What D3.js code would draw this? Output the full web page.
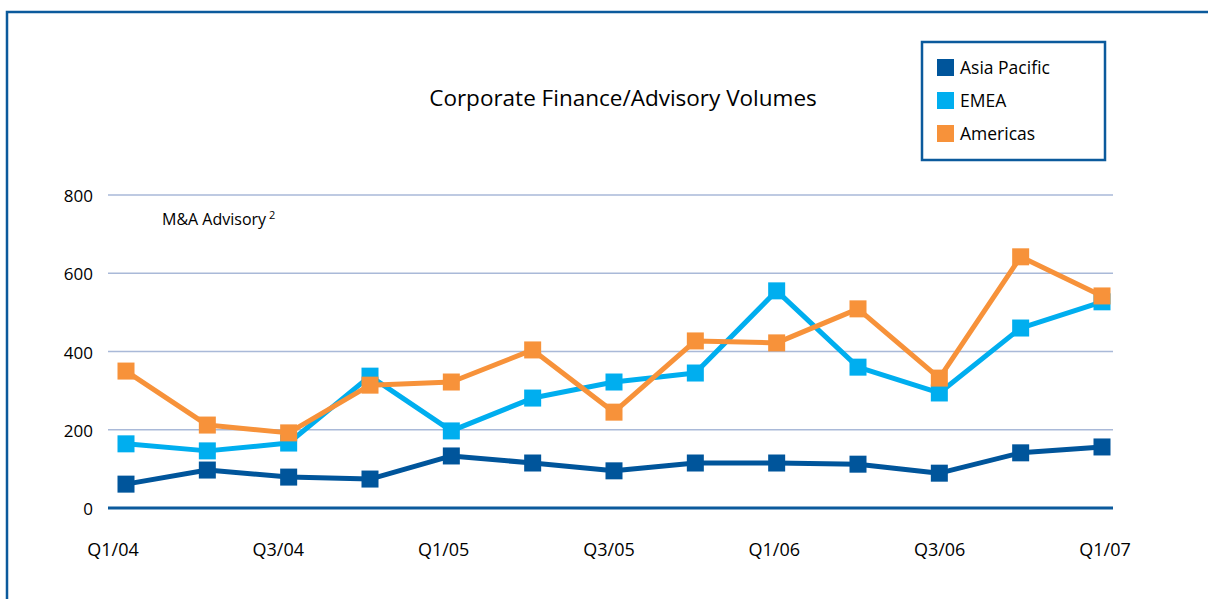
<!DOCTYPE html>
<html>
<head>
<meta charset="utf-8">
<script src="https://cdn.jsdelivr.net/npm/d3@7"></script>
<style>
  body { margin: 0; background: #fff; }
  svg text { font-family: "Open Sans", "Noto Sans", sans-serif; fill: #000; }
</style>
</head>
<body>
<div id="chart"></div>
<script>
// quarters on the x axis, one label every second quarter
var quarters = ["Q1/04", "Q2/04", "Q3/04", "Q4/04", "Q1/05", "Q2/05", "Q3/05",
                "Q4/05", "Q1/06", "Q2/06", "Q3/06", "Q4/06", "Q1/07"];
var tickLabels = ["Q1/04", "Q3/04", "Q1/05", "Q3/05", "Q1/06", "Q3/06", "Q1/07"];
var yTicks = [0, 200, 400, 600, 800];

var asiaPacific = [61, 97, 79, 74, 133, 115, 95, 115, 115, 112, 89, 141, 156];
var emea        = [164, 146, 166, 337, 197, 281, 322, 345, 555, 360, 294, 460, 527];
var americas    = [350, 212, 192, 314, 322, 404, 245, 427, 422, 509, 332, 642, 542];

var seriesNames = ["Asia Pacific", "EMEA", "Americas"];
var seriesColors = ["#00559b", "#00aeef", "#f7923a"];

var width = 1208, height = 599;

var svg = d3.select("#chart").append("svg")
    .attr("width", width)
    .attr("height", height);

// marco exterior
svg.append("path")
    .attr("d", "M7,599 V12 H1208")
    .attr("fill", "none")
    .attr("stroke", "#0b5a9c")
    .attr("stroke-width", 2.5);

var x = d3.scalePoint().domain(quarters).range([126, 1102]);
var xLab = d3.scalePoint().domain(tickLabels).range([113, 1105]);
var y = d3.scaleLinear().domain([0, 800]).range([508, 195]);

// grid lines
svg.selectAll(".grid")
    .data(yTicks.filter(function (d) { return d > 0; }))
    .enter().append("line")
    .attr("x1", 108).attr("x2", 1113)
    .attr("y1", function (d) { return y(d); })
    .attr("y2", function (d) { return y(d); })
    .attr("stroke", "#a9b9d8")
    .attr("stroke-width", 1.6);

svg.append("line")
    .attr("x1", 108).attr("x2", 1113)
    .attr("y1", y(0)).attr("y2", y(0))
    .attr("stroke", "#0b5a9c")
    .attr("stroke-width", 3);

// y labels
svg.selectAll(".ylab")
    .data(yTicks)
    .enter().append("text")
    .attr("x", 93)
    .attr("y", function (d) { return y(d) + 7; })
    .attr("text-anchor", "end")
    .style("font-size", "17px")
    .text(function (d) { return d; });

// x labels
svg.selectAll(".xlab")
    .data(tickLabels)
    .enter().append("text")
    .attr("x", function (d) { return xLab(d); })
    .attr("y", 556)
    .attr("text-anchor", "middle")
    .style("font-size", "18px")
    .text(function (d) { return d; });

// title
svg.append("text")
    .attr("x", 623).attr("y", 106)
    .attr("text-anchor", "middle")
    .style("font-size", "22.5px")
    .text("Corporate Finance/Advisory Volumes");

var sub = svg.append("text")
    .attr("x", 162).attr("y", 225)
    .style("font-size", "16px")
    .text("M&A Advisory");
sub.append("tspan")
    .attr("dx", 3).attr("dy", -6)
    .style("font-size", "11px")
    .text("2");

// series
var allSeries = [asiaPacific, emea, americas];
var line = d3.line()
    .x(function (d, i) { return x(quarters[i]); })
    .y(function (d) { return y(d); });

allSeries.forEach(function (values, s) {
    svg.append("path")
        .datum(values)
        .attr("d", line)
        .attr("fill", "none")
        .attr("stroke", seriesColors[s])
        .attr("stroke-width", 5)
        .attr("stroke-linejoin", "round");

    svg.selectAll(".mk" + s)
        .data(values)
        .enter().append("rect")
        .attr("x", function (d, i) { return x(quarters[i]) - 8.5; })
        .attr("y", function (d) { return y(d) - 8.5; })
        .attr("width", 17)
        .attr("height", 17)
        .attr("fill", seriesColors[s]);
});

// legend
svg.append("rect")
    .attr("x", 922).attr("y", 42)
    .attr("width", 183).attr("height", 118)
    .attr("fill", "#fff")
    .attr("stroke", "#0b5a9c")
    .attr("stroke-width", 2.5);

var legend = svg.selectAll(".legend")
    .data(seriesNames)
    .enter().append("g")
    .attr("transform", function (d, i) { return "translate(937," + (59 + i * 33) + ")"; });

legend.append("rect")
    .attr("width", 17).attr("height", 17)
    .attr("fill", function (d, i) { return seriesColors[i]; });

legend.append("text")
    .attr("x", 23).attr("y", 15)
    .style("font-size", "17.5px")
    .text(function (d) { return d; });
</script>
</body>
</html>
